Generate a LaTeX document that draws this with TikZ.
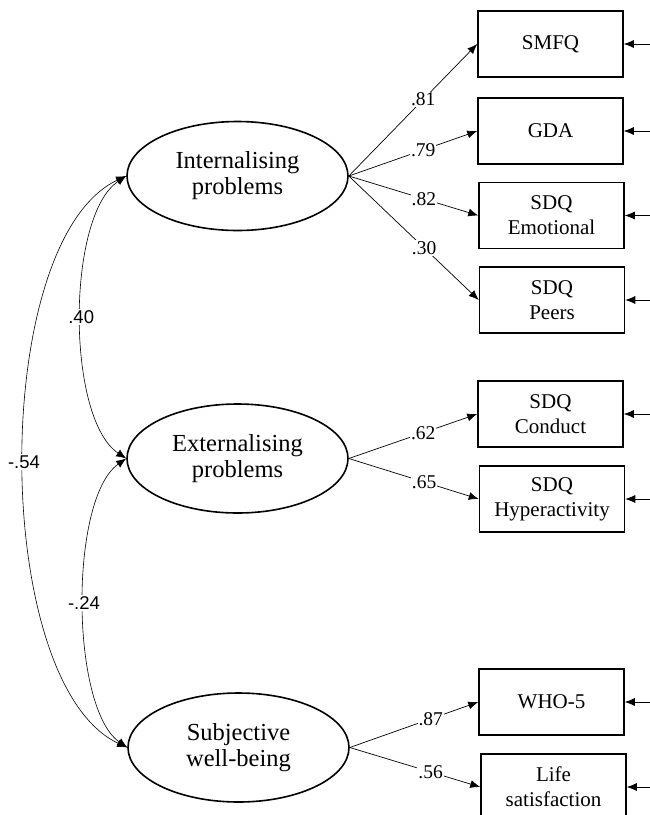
\documentclass[tikz,border=0pt]{standalone}
\usepackage{fontspec}
\setmainfont{Liberation Serif}
\newfontfamily\covfont{Liberation Sans}
\usetikzlibrary{shapes,arrows.meta}

\begin{document}
\begin{tikzpicture}[x=1pt,y=-1pt]
\tikzstyle{latent}=[ellipse, draw=black, line width=1.6pt, minimum width=221pt, minimum height=109pt, inner sep=0pt, align=center, font=\fontsize{24.5}{26}\selectfont]
\tikzstyle{observed}=[rectangle, draw=black, line width=1.5pt, minimum width=145pt, minimum height=66pt, inner sep=0pt, align=center, font=\fontsize{21}{25}\selectfont]
\tikzstyle{connect}=[-{Latex[length=10pt,width=8pt]}, line width=0.7pt]
\tikzstyle{covar}=[{Latex[length=10pt,width=8pt]}-{Latex[length=10pt,width=8pt]}, line width=0.6pt]
\tikzstyle{load}=[fill=white, inner sep=1pt, font=\fontsize{19.5}{19.5}\selectfont]
\tikzstyle{covlabel}=[fill=white, inner sep=1.5pt, font=\covfont\fontsize{18.5}{18.5}\selectfont]
\useasboundingbox (0,0) rectangle (650,815);
\clip (0,0) rectangle (650,815);
	% latent factors
	\node[latent] (int) at (237.5,176) {Internalising\\problems};
	\node[latent] (ext) at (237.5,458.5) {Externalising\\problems};
	\node[latent] (swb) at (238.5,747.5) {Subjective\\well-being};

	% indicators
	\node[observed] (smfq) at (550.5,44) {SMFQ};
	\node[observed] (gda) at (550.5,131) {GDA};
	\node[observed] (sdqemo) at (551.5,215.5) {SDQ\\Emotional};
	\node[observed] (sdqpeer) at (552,300) {SDQ\\Peers};
	\node[observed] (sdqcon) at (550.5,414) {SDQ\\Conduct};
	\node[observed] (sdqhyp) at (552,499) {SDQ\\Hyperactivity};
	\node[observed] (who) at (551.5,702) {WHO-5};
	\node[observed] (life) at (553.5,787) {Life\\satisfaction};

	% loadings
	\path[connect]
		(int.east) edge node[load, pos=0.58] {.81} (smfq.west)
		(int.east) edge node[load, pos=0.58] {.79} (gda.west)
		(int.east) edge node[load, pos=0.58] {.82} (sdqemo.west)
		(int.east) edge node[load, pos=0.58] {.30} (sdqpeer.west)
		(ext.east) edge node[load, pos=0.58] {.62} (sdqcon.west)
		(ext.east) edge node[load, pos=0.58] {.65} (sdqhyp.west)
		(swb.east) edge node[load, pos=0.63] {.87} (who.west)
		(swb.east) edge node[load, pos=0.62] {.56} (life.west);

	% residuals
	\foreach \b in {smfq,gda,sdqemo,sdqpeer,sdqcon,sdqhyp,who,life}{
		\coordinate (e\b) at ([xshift=42pt]\b.east);
		\draw[connect] (e\b) -- (\b.east);
	}

	% covariances
	\draw[covar] (int.west) .. controls +(-60,40) and +(-60,-40) .. node[covlabel] {.40} (ext.west);
	\draw[covar] (ext.west) .. controls +(-57,40) and +(-57,-40) .. node[covlabel] {-.24} (swb.west);
	\draw[covar] (int.west) .. controls +(-137,64) and +(-137,-64) .. node[covlabel] {-.54} (swb.west);
\end{tikzpicture}
\end{document}
